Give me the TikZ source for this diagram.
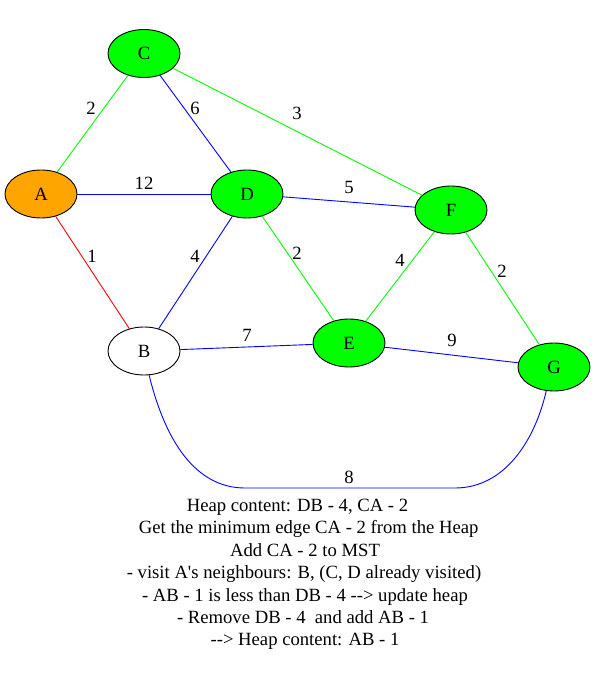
\documentclass[tikz,border=0pt]{standalone}
\usepackage{fontspec}
\setmainfont{Liberation Serif}[Ligatures=TeXOff]
\usetikzlibrary{shapes.geometric}
\definecolor{gvgreen}{HTML}{00FF00}
\definecolor{gvblue}{HTML}{0000FF}
\definecolor{gvred}{HTML}{FF0000}
\definecolor{gvorange}{HTML}{FFA500}
\tikzset{
  vert/.style={ellipse, draw=black, line width=0.9pt, minimum width=72pt, minimum height=48pt, inner sep=0pt, font=\fontsize{18.67}{20}\selectfont},
  ge/.style={draw=gvgreen, line width=0.9pt},
  be/.style={draw=gvblue, line width=0.9pt},
  re/.style={draw=gvred, line width=0.9pt},
  wlabel/.style={font=\fontsize{18.67}{20}\selectfont, inner sep=0pt},
  txtline/.style={font=\fontsize{18.67}{20}\selectfont, inner sep=0pt, anchor=base},
}
\begin{document}
\begin{tikzpicture}[x=1pt,y=-1pt]
\useasboundingbox[fill=white] (0,0) rectangle (596,684);
\node[vert, fill=gvgreen] (C) at (144,53.5) {C};
\node[vert, fill=gvorange] (A) at (41,194) {A};
\node[vert, fill=gvgreen] (D) at (247,194) {D};
\node[vert, fill=gvgreen] (F) at (451,210) {F};
\node[vert, fill=white] (B) at (144,351) {B};
\node[vert, fill=gvgreen] (E) at (349,343) {E};
\node[vert, fill=gvgreen] (G) at (554,367) {G};

\draw[ge] (C) -- (A);
\draw[be] (C) -- (D);
\draw[ge] (C) -- (F);
\draw[be] (A) -- (D);
\draw[re] (A) -- (B);
\draw[be] (D) -- (F);
\draw[be] (D) -- (B);
\draw[ge] (D) -- (E);
\draw[ge] (F) -- (E);
\draw[ge] (F) -- (G);
\draw[be] (B) -- (E);
\draw[be] (E) -- (G);
\draw[be] (B.-78) .. controls (165,440) and (195,488) .. (245,488) -- (455,488) .. controls (505,488) and (535,440) .. (G.-108);

\node[wlabel] (l1) at (91,108) {2};
\node[wlabel] (l2) at (195,108) {6};
\node[wlabel] (l3) at (297,113) {3};
\node[wlabel] (l4) at (144,183) {12};
\node[wlabel] (l5) at (92,256) {1};
\node[wlabel] (l6) at (349,187) {5};
\node[wlabel] (l7) at (195,256) {4};
\node[wlabel] (l8) at (297,253) {2};
\node[wlabel] (l9) at (400,260) {4};
\node[wlabel] (l10) at (502,271) {2};
\node[wlabel] (l11) at (247,335) {7};
\node[wlabel] (l12) at (452,340) {9};
\node[wlabel] (l13) at (349,477) {8};

\node[txtline] (t1) at (297.5,511.5) {Heap content: DB - 4, CA - 2};
\node[txtline] (t2) at (308.7,533.9) {Get the minimum edge CA - 2 from the Heap};
\node[txtline] (t3) at (305,556.3) {Add CA - 2 to MST};
\node[txtline] (t4) at (304,578.7) {- visit A's neighbours: B, (C, D already visited)};
\node[txtline] (t5) at (305,601.1) {- AB - 1 is less than DB - 4 --> update heap};
\node[txtline] (t6) at (303,623.5) {- Remove DB - 4~~and add AB - 1};
\node[txtline] (t7) at (305,645.9) {--> Heap content: AB - 1};
\end{tikzpicture}
\end{document}
